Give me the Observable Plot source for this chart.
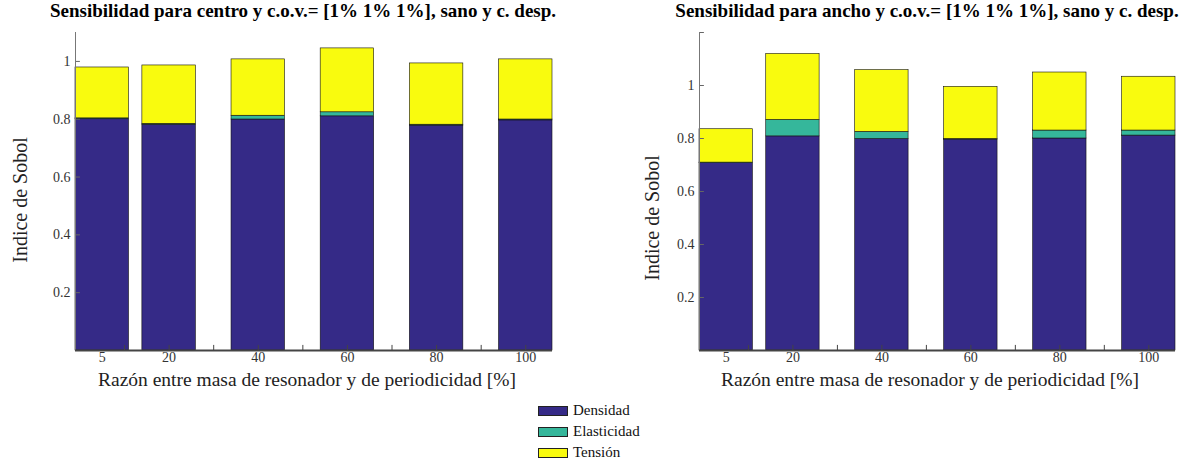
<!DOCTYPE html>
<html>
<head>
<meta charset="utf-8">
<script src="https://cdn.jsdelivr.net/npm/d3@7"></script>
<script src="https://cdn.jsdelivr.net/npm/@observablehq/plot@0.6"></script>
<style>
  html, body { margin: 0; padding: 0; background: #fff; }
  #wrap { position: relative; width: 1196px; height: 464px; font-family: "Liberation Serif", "Times New Roman", serif; overflow: hidden; }
  .panel { position: absolute; top: 0; }
  .panel svg text { font-family: "Liberation Serif", "Times New Roman", serif; }
  .title { position: absolute; top: 0px; font-weight: bold; font-size: 19px; line-height: 22px; color: #000; white-space: nowrap; transform: translateX(-50%); }
  .ylab { position: absolute; font-size: 20px; color: #222; white-space: nowrap; transform: translate(-50%, -50%) rotate(-90deg); }
  .xlab { position: absolute; top: 369px; font-size: 19.5px; line-height: 22px; color: #222; white-space: nowrap; transform: translateX(-50%); }
  #legend { position: absolute; left: 538px; top: 400px; font-size: 15px; color: #111; }
  #legend .row { display: flex; align-items: center; height: 21px; }
  #legend .sw { width: 28px; height: 8px; border: 1px solid #222; margin-right: 5px; }
</style>
</head>
<body>
<div id="wrap"></div>
<script>
// ---- data ----
const ratios = [5, 20, 40, 60, 80, 100];
const components = ["Densidad", "Elasticidad", "Tensión"];
const colors = ["#352a87", "#35b79b", "#f9fb0e"];

const centroDensidad    = [0.800, 0.781, 0.799, 0.810, 0.778, 0.796];
const centroElasticidad = [0.003, 0.003, 0.013, 0.014, 0.003, 0.003];
const centroTension     = [0.176, 0.202, 0.195, 0.221, 0.212, 0.208];

const anchoDensidad    = [0.707, 0.808, 0.798, 0.796, 0.800, 0.811];
const anchoElasticidad = [0.002, 0.062, 0.027, 0.002, 0.030, 0.019];
const anchoTension     = [0.126, 0.249, 0.233, 0.197, 0.219, 0.203];

const xTickLabels = ["5", "20", "40", "60", "80", "100"];
const xMinorTicks = [10, 20, 30, 40, 50, 60, 70, 80, 90, 100];
const yTicks = [0.2, 0.4, 0.6, 0.8, 1];

function stackRows(dens, elas, tens) {
  const rows = [];
  ratios.forEach((r, i) => {
    let base = 0;
    [dens[i], elas[i], tens[i]].forEach((v, j) => {
      rows.push({x: r, comp: components[j], y1: base, y2: base + v});
      base += v;
    });
  });
  return rows;
}

const halfW = 6;   // bar half width in x units (bar width 0.8 * 15)
const serif = "Liberation Serif, Times New Roman, serif";

function panel({rows, yMax, yTickMarks, marginLeft, marginRight}) {
  const W = 598, H = 400;
  return Plot.plot({
    width: W, height: H,
    marginLeft, marginRight, marginTop: 32, marginBottom: 50,
    style: {fontFamily: serif, fontSize: "14px", color: "#333", background: "transparent"},
    x: {type: "linear", domain: [-1, 106], axis: null},
    y: {domain: [0, yMax], axis: null},
    color: {domain: components, range: colors},
    marks: [
      Plot.rectY(rows, {
        x1: d => d.x - halfW, x2: d => d.x + halfW,
        y1: "y1", y2: "y2", fill: "comp",
        stroke: "#111", strokeWidth: 0.6
      }),
      // inward ticks
      Plot.ruleX(xMinorTicks, {x: d => d, y1: 0, y2: yMax * 0.016, stroke: "#444"}),
      Plot.ruleY(yTickMarks, {y: d => d, x1: -1, x2: 0.1, stroke: "#666"}),
      // axis lines
      Plot.ruleX([-1], {stroke: "#777", strokeWidth: 1}),
      Plot.ruleY([0], {stroke: "#444", strokeWidth: 2}),
      // tick labels
      Plot.axisX(ratios, {anchor: "bottom", tickSize: 0, tickPadding: 2, tickFormat: (d, i) => xTickLabels[i], fill: "#333", fontSize: 14, fontFamily: serif}),
      Plot.axisY(yTicks, {anchor: "left", tickSize: 0, tickPadding: 5, tickFormat: d => String(d), fill: "#333", fontSize: 14, fontFamily: serif})
    ]
  });
}

const wrap = document.getElementById("wrap");

const left = document.createElement("div");
left.className = "panel"; left.style.left = "0px";
left.appendChild(panel({
  rows: stackRows(centroDensidad, centroElasticidad, centroTension),
  yMax: 1.1, yTickMarks: [0.2, 0.4, 0.6, 0.8, 1],
  marginLeft: 75, marginRight: 46
}));
wrap.appendChild(left);

const right = document.createElement("div");
right.className = "panel"; right.style.left = "598px";
right.appendChild(panel({
  rows: stackRows(anchoDensidad, anchoElasticidad, anchoTension),
  yMax: 1.2, yTickMarks: [0.2, 0.4, 0.6, 0.8, 1, 1.2],
  marginLeft: 101, marginRight: 21
}));
wrap.appendChild(right);

function addText(cls, text, x, y) {
  const d = document.createElement("div");
  d.className = cls; d.textContent = text;
  d.style.left = x + "px";
  if (y !== undefined) d.style.top = y + "px";
  wrap.appendChild(d);
}
addText("title", "Sensibilidad para centro y c.o.v.= [1% 1% 1%], sano y c. desp.", 303);
addText("title", "Sensibilidad para ancho y c.o.v.= [1% 1% 1%], sano y c. desp.", 927);
addText("ylab", "Indice de Sobol", 20, 200);
addText("ylab", "Indice de Sobol", 652, 218);
addText("xlab", "Razón entre masa de resonador y de periodicidad [%]", 307);
addText("xlab", "Razón entre masa de resonador y de periodicidad [%]", 930);

const legend = document.createElement("div");
legend.id = "legend";
components.forEach((c, i) => {
  const row = document.createElement("div"); row.className = "row";
  const sw = document.createElement("div"); sw.className = "sw"; sw.style.background = colors[i];
  const lab = document.createElement("span"); lab.textContent = c;
  row.appendChild(sw); row.appendChild(lab);
  legend.appendChild(row);
});
wrap.appendChild(legend);
</script>
</body>
</html>
